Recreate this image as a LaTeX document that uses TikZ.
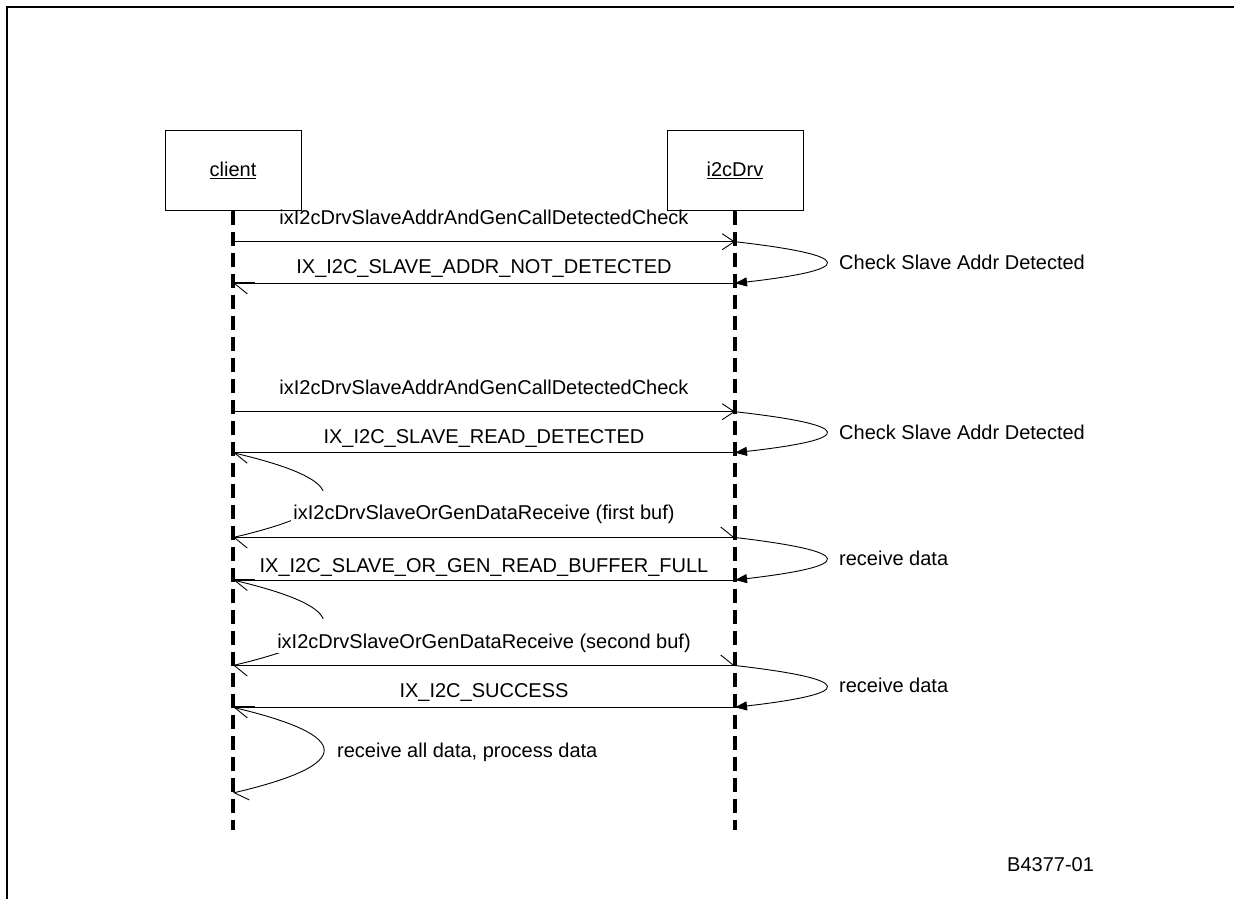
\documentclass[tikz,border=0pt]{standalone}
\usepackage{fontspec}
\setmainfont{Liberation Sans}
\usetikzlibrary{arrows.meta,calc}

\begin{document}
\begin{tikzpicture}[x=1pt,y=-1pt,
  every node/.style={font=\fontsize{20}{24}\selectfont},
  objbox/.style={draw,line width=1pt,minimum width=136pt,minimum height=80pt,inner sep=0pt},
  lifeline/.style={line width=3.4pt,dash pattern=on 14pt off 7pt},
  msg/.style={line width=0.9pt},
  callmsg/.style={msg,-{Straight Barb[length=12pt,width=16pt]}},
  retmsg/.style={msg,-{Straight Barb[length=13pt,width=21pt,left]}},
  backmsg/.style={msg,{Straight Barb[length=13pt,width=21pt,left]}-{Straight Barb[length=13pt,width=21pt,left]}},
  selfloop/.style={msg,-{Triangle[length=12pt,width=9pt]}},
  lastloop/.style={msg,-{Straight Barb[length=13pt,width=21pt,left]}},
  stub/.style={line width=2pt},
  lbl/.style={inner sep=0pt,anchor=base},
  sidelbl/.style={inner sep=0pt,anchor=base west},
  covlbl/.style={anchor=base,fill=white,inner xsep=2pt,inner ysep=0pt,text height=29pt,text depth=5pt},
]
\useasboundingbox (0,0) rectangle (1234,899);

% page frame (top and left edges)
\coordinate (frameBL) at (7,899);
\coordinate (frameTL) at (7,6.7);
\coordinate (frameTR) at (1234,6.7);
\draw[line width=2.3pt] (frameBL) -- (frameTL) -- (frameTR);

% objects
\node[objbox] (client) at (233,170) {\underline{client}};
\node[objbox] (drv) at (735,170) {\underline{i2cDrv}};

% lifeline ends
\coordinate (clientEnd) at (233,830);
\coordinate (drvEnd) at (735,830);
\draw[lifeline] (client.south) -- (clientEnd);
\draw[lifeline] (drv.south) -- (drvEnd);

% message points on the lifelines
\foreach \n/\y in {1/241.7,2/283.3,3/411.7,4/452.7,5/537.5,6/580,7/665.5,8/707.3,9/793}{
  \coordinate (c\n) at (233,\y);
  \coordinate (d\n) at (735,\y);
}

% driver self calls
\draw[selfloop] (d1) .. controls ($(d1)!1/3!(d2)+(121.3,0)$) and ($(d1)!2/3!(d2)+(121.3,0)$) .. (d2);
\draw[selfloop] (d3) .. controls ($(d3)!1/3!(d4)+(121.3,0)$) and ($(d3)!2/3!(d4)+(121.3,0)$) .. (d4);
\draw[selfloop] (d5) .. controls ($(d5)!1/3!(d6)+(121.3,0)$) and ($(d5)!2/3!(d6)+(121.3,0)$) .. (d6);
\draw[selfloop] (d7) .. controls ($(d7)!1/3!(d8)+(121.3,0)$) and ($(d7)!2/3!(d8)+(121.3,0)$) .. (d8);

% client self calls
\draw[msg] (c4) .. controls ($(c4)!1/3!(c5)+(121.3,0)$) and ($(c4)!2/3!(c5)+(121.3,0)$) .. (c5);
\draw[msg] (c6) .. controls ($(c6)!1/3!(c7)+(121.3,0)$) and ($(c6)!2/3!(c7)+(121.3,0)$) .. (c7);
\draw[lastloop] (c8) .. controls ($(c8)!1/3!(c9)+(121.3,0)$) and ($(c8)!2/3!(c9)+(121.3,0)$) .. (c9);

% messages
\draw[callmsg] (c1) -- (d1);
\draw[retmsg] (d2) -- (c2);
\draw[callmsg] (c3) -- (d3);
\draw[retmsg] (d4) -- (c4);
\draw[backmsg] (d5) -- (c5);
\draw[retmsg] (d6) -- (c6);
\draw[backmsg] (d7) -- (c7);
\draw[retmsg] (d8) -- (c8);
\draw[stub] (c2) -- ++(22,0);
\draw[stub] (c6) -- ++(22,0);
\draw[stub] (c8) -- ++(22,0);

% labels
\node[lbl] (l1) at (484,224) {ixI2cDrvSlaveAddrAndGenCallDetectedCheck};
\node[lbl] (l2) at (484,273.7) {IX\_I2C\_SLAVE\_ADDR\_NOT\_DETECTED};
\node[sidelbl] (s1) at (839,269.7) {Check Slave Addr Detected};
\node[lbl] (l3) at (484,394) {ixI2cDrvSlaveAddrAndGenCallDetectedCheck};
\node[sidelbl] (s2) at (839,439.4) {Check Slave Addr Detected};
\node[lbl] (l4) at (484,443) {IX\_I2C\_SLAVE\_READ\_DETECTED};
\node[covlbl] (l5) at (484,519.7) {ixI2cDrvSlaveOrGenDataReceive (first buf)};
\node[sidelbl] (s3) at (839,565) {receive data};
\node[lbl] (l6) at (484,572) {IX\_I2C\_SLAVE\_OR\_GEN\_READ\_BUFFER\_FULL};
\node[covlbl] (l7) at (484,648) {ixI2cDrvSlaveOrGenDataReceive (second buf)};
\node[sidelbl] (s4) at (839,692.7) {receive data};
\node[lbl] (l8) at (484,697) {IX\_I2C\_SUCCESS};
\node[sidelbl] (s5) at (337,757) {receive all data, process data};
\node[sidelbl] (tag) at (1007,871.7) {B4377-01};
\end{tikzpicture}
\end{document}
